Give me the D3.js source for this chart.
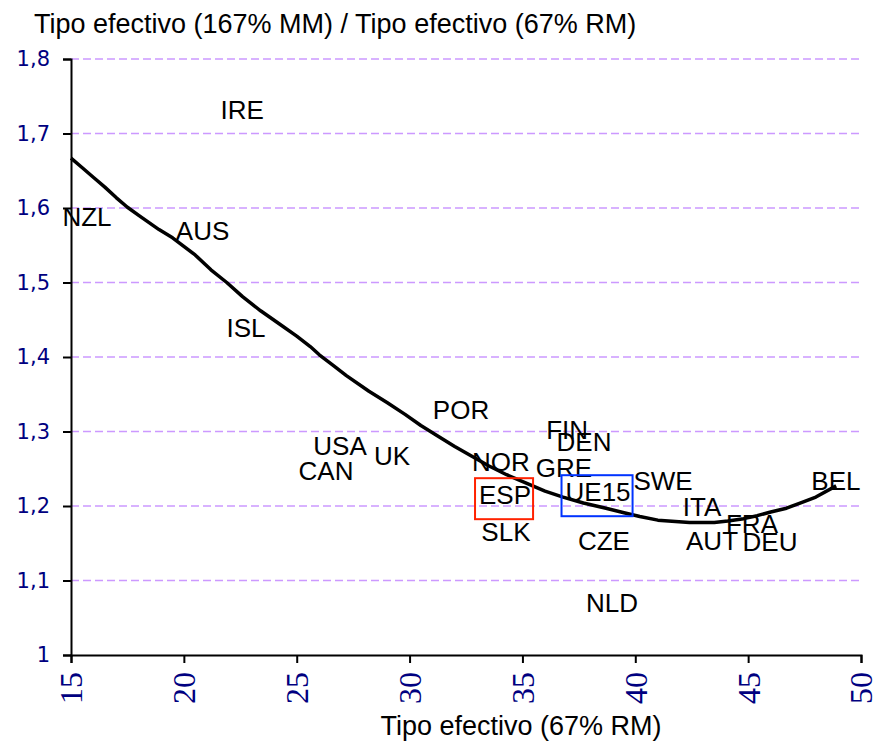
<!DOCTYPE html>
<meta charset="utf-8">
<script src="https://d3js.org/d3.v7.min.js"></script>
<style>
  body { margin: 0; background: #fff; }
</style>
<div id="my_dataviz"></div>
<script>
// curve: tipo efectivo (67% RM) vs ratio
var curveX = [15.0, 15.5, 16.0, 16.5, 17.0, 17.5, 18.0, 18.9, 19.5, 20.5, 21.2, 21.9, 22.6, 23.4, 24.3, 25.0,
  25.6, 26.0, 26.6, 27.2, 28.2, 29.0, 29.8, 30.5, 31.3, 32.0, 32.8, 33.5, 34.3, 35.3, 36.0, 36.8,
  37.7, 38.7, 39.5, 40.2, 41.0, 42.4, 43.5, 44.1, 44.8, 45.4, 46.0, 46.7, 47.3, 48.0, 48.9]
var curveY = [1.667, 1.654, 1.641, 1.628, 1.614, 1.601, 1.590, 1.571, 1.560, 1.537, 1.517, 1.500, 1.481, 1.462, 1.443, 1.428,
  1.414, 1.403, 1.389, 1.375, 1.354, 1.339, 1.323, 1.308, 1.293, 1.280, 1.266, 1.254, 1.242, 1.229, 1.220, 1.212,
  1.204, 1.197, 1.191, 1.186, 1.181, 1.178, 1.178, 1.180, 1.183, 1.187, 1.192, 1.197, 1.204, 1.212, 1.227]

// country labels
var countries = ["IRE", "NZL", "AUS", "ISL", "POR", "USA", "CAN", "UK", "FIN", "DEN", "NOR", "GRE",
  "ESP", "UE15", "SWE", "SLK", "CZE", "ITA", "AUT", "FRA", "DEU", "BEL", "NLD"]
var countryX = [22.58, 15.71, 20.83, 22.75, 32.28, 26.92, 26.30, 29.22, 36.98, 37.73, 34.05, 36.84,
  34.23, 38.35, 41.23, 34.27, 38.61, 42.96, 43.40, 45.17, 45.97, 48.89, 38.97]
var countryY = [1.732, 1.588, 1.569, 1.439, 1.329, 1.281, 1.248, 1.267, 1.302, 1.287, 1.259, 1.252,
  1.215, 1.219, 1.234, 1.166, 1.153, 1.199, 1.153, 1.176, 1.152, 1.234, 1.070]

var xTicks = [15, 20, 25, 30, 35, 40, 45, 50]
var yTicks = [1, 1.1, 1.2, 1.3, 1.4, 1.5, 1.6, 1.7, 1.8]

var width = 876
var height = 743
var margin = {top: 59, right: 15, bottom: 88, left: 71}

var svg = d3.select("#my_dataviz")
  .append("svg")
    .attr("width", width)
    .attr("height", height)

var x = d3.scaleLinear().domain([15, 50]).range([margin.left, width - margin.right])
var y = d3.scaleLinear().domain([1, 1.8]).range([height - margin.bottom, margin.top])

// grid
svg.append("g")
  .selectAll("line")
  .data(yTicks.slice(1))
  .enter().append("line")
    .attr("x1", x(15))
    .attr("x2", x(50))
    .attr("y1", function(d){ return y(d) })
    .attr("y2", function(d){ return y(d) })
    .style("stroke", "#cc99ff")
    .style("stroke-width", 1.5)
    .style("stroke-dasharray", "8,4")

// y axis
var yAxis = svg.append("g")
  .attr("transform", "translate(" + x(15) + ",0)")
  .call(d3.axisLeft(y).tickValues(yTicks).tickSize(8).tickPadding(13)
    .tickFormat(function(d){ return d3.format(".1~f")(d).replace(".", ",") }))
yAxis.select(".domain").style("stroke-width", 2)
yAxis.selectAll(".tick line").style("stroke-width", 2)
yAxis.selectAll("text")
  .style("font-family", "'DejaVu Sans', Verdana, sans-serif")
  .style("font-size", "21px")
  .style("fill", "#000080")

// x axis
var xAxis = svg.append("g")
  .attr("transform", "translate(0," + y(1) + ")")
  .call(d3.axisBottom(x).tickValues(xTicks).tickSize(8).tickFormat(d3.format("d")))
xAxis.select(".domain").style("stroke-width", 2)
xAxis.selectAll(".tick line").style("stroke-width", 2)
xAxis.selectAll("text")
  .attr("transform", "translate(0,17) rotate(-90)")
  .attr("x", 0)
  .attr("y", 0)
  .attr("dy", "0.34em")
  .style("text-anchor", "end")
  .style("font-family", "'Liberation Serif', 'Times New Roman', serif")
  .style("font-size", "32px")
  .style("fill", "#000080")

// curve
var line = d3.line()
  .x(function(d){ return x(d[0]) })
  .y(function(d){ return y(d[1]) })
svg.append("path")
  .datum(curveX.map(function(v, i){ return [v, curveY[i]] }))
  .attr("d", line)
  .style("fill", "none")
  .style("stroke", "#000")
  .style("stroke-width", 3.5)
  .style("stroke-linejoin", "round")

// labels
var boxColor = {"ESP": "#ff2200", "UE15": "#0033ff"}
var labels = svg.append("g")
  .selectAll("text")
  .data(countries)
  .enter().append("text")
    .attr("x", function(d, i){ return x(countryX[i]) })
    .attr("y", function(d, i){ return y(countryY[i]) })
    .attr("dy", "0.36em")
    .attr("text-anchor", "middle")
    .style("font-family", "'Liberation Sans', Arial, sans-serif")
    .style("font-size", "26px")
    .style("fill", "#000")
    .text(function(d){ return d })

labels.each(function(d){
  if (!boxColor[d]) return
  var b = this.getBBox()
  svg.append("rect")
    .attr("x", b.x - 4)
    .attr("y", b.y - 2)
    .attr("width", b.width + 6)
    .attr("height", b.height + 11)
    .style("fill", "none")
    .style("stroke", boxColor[d])
    .style("stroke-width", 2)
})

// titles
svg.append("text")
  .attr("x", 34)
  .attr("y", 33)
  .style("font-family", "'Liberation Sans', Arial, sans-serif")
  .style("font-size", "27px")
  .text("Tipo efectivo (167% MM) / Tipo efectivo (67% RM)")

svg.append("text")
  .attr("x", 521)
  .attr("y", 735)
  .attr("text-anchor", "middle")
  .style("font-family", "'Liberation Sans', Arial, sans-serif")
  .style("font-size", "27px")
  .text("Tipo efectivo (67% RM)")
</script>
